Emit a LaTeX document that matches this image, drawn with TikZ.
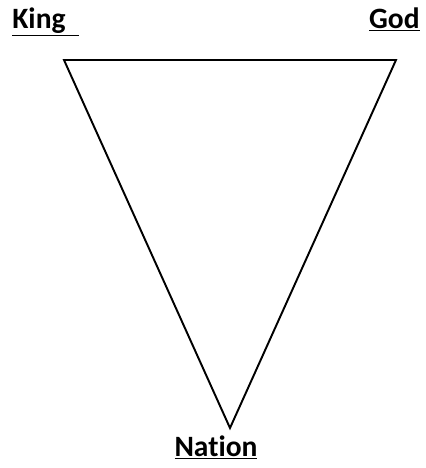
\documentclass[tikz,border=0pt]{standalone}
\usepackage{fontspec}
\setmainfont{Carlito}[Ligatures=CommonOff]
\usepackage{tikz}
\usetikzlibrary{positioning}
\newcommand{\Ulabel}[1]{\underline{\textbf{#1}}}

\begin{document}
\begin{tikzpicture}[
  x=0.02cm, y=-0.02cm,
  every node/.style={inner sep=0pt, font=\fontsize{16.8}{19}\selectfont},
  side/.style={line width=1.1pt, line join=miter},
]
  \useasboundingbox (0,0) rectangle (426,468);

  % Corners of the triangle
  \coordinate (TL) at (64,60);
  \coordinate (TR) at (396,60);
  \coordinate (BT) at (230,428);

  % Labels
  \node (king)   [anchor=base west] at (12,28)   {\Ulabel{King\hphantom{\ \ }}};
  \node (god)    [anchor=base east] at (420,28)  {\Ulabel{God}};
  \node (nation) [anchor=base]      at (216,456) {\Ulabel{Nation}};

  % Triangle
  \draw[side] (TL) -- (TR) -- (BT) -- cycle;

\end{tikzpicture}
\end{document}
